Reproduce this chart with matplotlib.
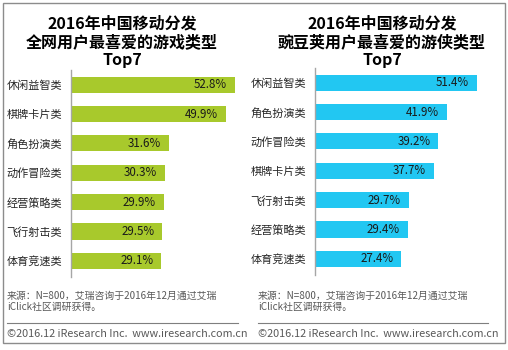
import matplotlib
matplotlib.use("Agg")
import matplotlib.pyplot as plt
from matplotlib.patches import Rectangle
from matplotlib.lines import Line2D
from matplotlib.transforms import offset_copy

plt.rcParams['font.family'] = ['Noto Sans CJK SC', 'DejaVu Sans']

# ---- data ----
left_categories = ["休闲益智类", "棋牌卡片类", "角色扮演类", "动作冒险类", "经营策略类", "飞行射击类", "体育竞速类"]
left_values = [52.8, 49.9, 31.6, 30.3, 29.9, 29.5, 29.1]
right_categories = ["休闲益智类", "角色扮演类", "动作冒险类", "棋牌卡片类", "飞行射击类", "经营策略类", "体育竞速类"]
right_values = [51.4, 41.9, 39.2, 37.7, 29.7, 29.4, 27.4]

left_title = ["2016年中国移动分发", "全网用户最喜爱的游戏类型", "Top7"]
right_title = ["2016年中国移动分发", "豌豆荚用户最喜爱的游侠类型", "Top7"]
source_text = "来源：N=800，艾瑞咨询于2016年12月通过艾瑞\niClick社区调研获得。"
copyright_text = "©2016.12 iResearch Inc.  www.iresearch.com.cn"

GREEN = "#A8C92C"
BLUE = "#22C7F2"

W, H = 508, 350
fig = plt.figure(figsize=(W / 100, H / 100), dpi=100)
fig.patch.set_facecolor("white")


def fx(px):
    return px / W


def fy(py):
    return 1 - py / H


# outer border
fig.patches.append(Rectangle((fx(3), fy(343)), fx(502), 340 / H, transform=fig.transFigure,
                             fill=False, edgecolor="#8C8C8C", linewidth=1.0))


def panel(rect, cats, vals, color, xmax):
    ax = fig.add_axes(rect)
    y = list(range(len(cats)))
    ax.barh(y, vals, height=0.55, color=color)
    ax.set_xlim(0, xmax)
    ax.set_ylim(6.55, -0.5)
    ax.set_yticks(y)
    ax.set_yticklabels(cats, fontsize=8, color="#262626")
    ax.tick_params(axis="y", length=0, pad=6.5)
    ax.set_xticks([])
    for s in ["top", "right", "bottom"]:
        ax.spines[s].set_visible(False)
    ax.spines["left"].set_color("#A6A6A6")
    ax.spines["left"].set_linewidth(1.0)
    ax.patch.set_alpha(0)
    tr = offset_copy(ax.transData, fig=fig, x=-8, y=0, units="dots")
    for yi, v in zip(y, vals):
        ax.text(v, yi, f"{v:.1f}%", transform=tr, ha="right", va="center",
                fontsize=8.3, color="#1a1a1a")
    return ax


panel([fx(71), fy(277), fx(172), 207 / H], left_categories, left_values, GREEN, 172 / 3.1)
panel([fx(315), fy(275), fx(175), 207 / H], right_categories, right_values, BLUE, 175 / 3.15)

# titles
for cx, lines in [(122, left_title), (382, right_title)]:
    for ly, line in zip([23, 42, 60], lines):
        fig.text(fx(cx), fy(ly), line, ha="center", va="center", fontsize=11.5,
                 fontweight="bold", color="#000000")

# footers
for x0, x1 in [(7, 238), (258, 488)]:
    fig.text(fx(x0), fy(291), source_text, ha="left", va="top", fontsize=7.1,
             color="#595959", linespacing=1.15)
    fig.lines.append(Line2D([fx(x0), fx(x1)], [fy(323), fy(323)], transform=fig.transFigure,
                            color="#7F7F7F", linewidth=0.8))
    fig.text(fx(x0), fy(334), copyright_text, ha="left", va="center", fontsize=7.8,
             color="#595959")

fig.savefig("out.png", dpi=100, facecolor="white")
